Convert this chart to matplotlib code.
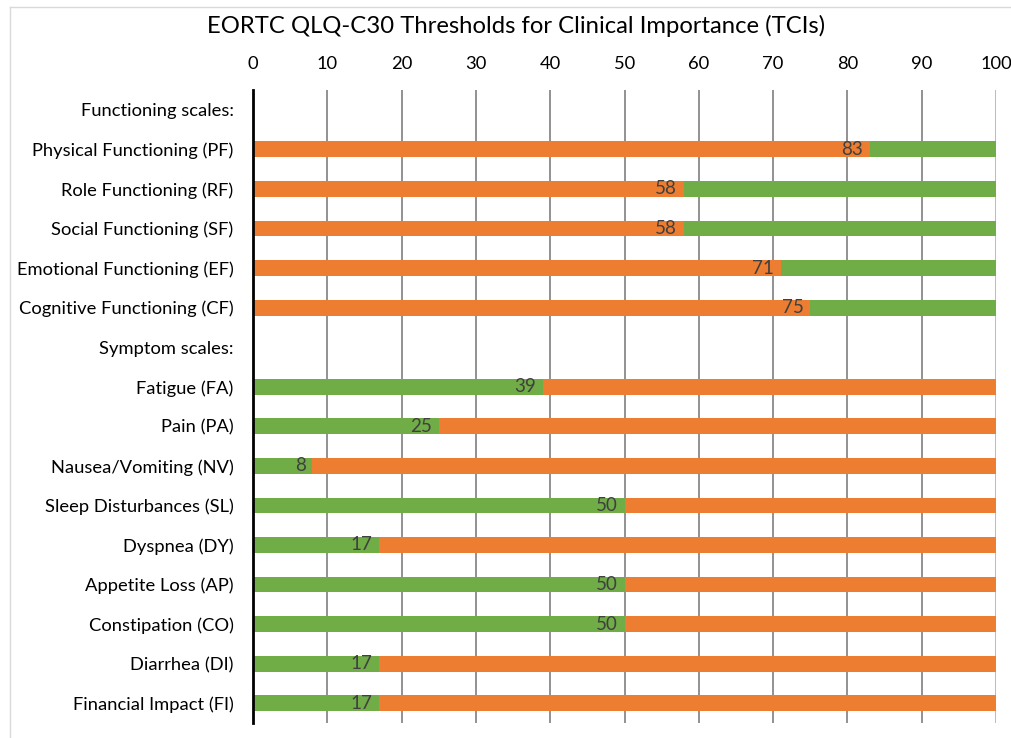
import matplotlib
matplotlib.use("Agg")
import matplotlib.pyplot as plt
from matplotlib.lines import Line2D

plt.rcParams['font.family'] = ['Lato', 'DejaVu Sans']

# Données
categories = ["Functioning scales:",
              "Physical Functioning (PF)", "Role Functioning (RF)", "Social Functioning (SF)",
              "Emotional Functioning (EF)", "Cognitive Functioning (CF)",
              "Symptom scales:",
              "Fatigue (FA)", "Pain (PA)", "Nausea/Vomiting (NV)", "Sleep Disturbances (SL)",
              "Dyspnea (DY)", "Appetite Loss (AP)", "Constipation (CO)", "Diarrhea (DI)",
              "Financial Impact (FI)"]
# None = ligne de titre sans barre
thresholds = [None, 83, 58, 58, 71, 75, None, 39, 25, 8, 50, 17, 50, 50, 17, 17]
group = [None, "F", "F", "F", "F", "F", None, "S", "S", "S", "S", "S", "S", "S", "S", "S"]
ticks = [0, 10, 20, 30, 40, 50, 60, 70, 80, 90, 100]

orange = "#ED7D31"
green = "#70AD47"

fig = plt.figure(figsize=(10.12, 7.38), dpi=100)
ax = fig.add_axes([0.25, 0.0203, 0.7342, 0.8577])

ypos = list(range(len(categories)))
for y, t, g in zip(ypos, thresholds, group):
    if t is None:
        continue
    c1, c2 = (orange, green) if g == "F" else (green, orange)
    ax.barh(y, t, left=0, height=0.4, color=c1, zorder=3)
    ax.barh(y, 100 - t, left=t, height=0.4, color=c2, zorder=3)
    ax.text(t - 0.9, y, str(t), ha='right', va='center', fontsize=13.5,
            color='#404040', zorder=4)

ax.set_xlim(0, 100)
ax.set_ylim(len(categories) - 0.5, -0.5)
ax.set_yticks(ypos)
ax.set_yticklabels(categories, fontsize=13.2)
ax.set_xticks(ticks)
ax.tick_params(axis='x', top=True, bottom=False, labeltop=True, labelbottom=False,
               length=0, pad=13, labelsize=13.2)
ax.tick_params(axis='y', length=0, pad=14)
for v in ticks[1:-1]:
    ax.axvline(v, color='#7F7F7F', lw=1.2, zorder=1)
ax.axvline(100, color='#A6A6A6', lw=1.8, zorder=1)
for s in ['top', 'right', 'bottom']:
    ax.spines[s].set_visible(False)
ax.spines['left'].set_linewidth(2)
ax.spines['left'].set_color('black')
ax.spines['left'].set_zorder(5)

fig.text(0.51, 0.965, "EORTC QLQ-C30 Thresholds for Clinical Importance (TCIs)",
         ha='center', va='center', fontsize=17.2, color='black')

# Cadre gris clair
fig.add_artist(Line2D([10 / 1012, 10 / 1012], [0, 1 - 7 / 738], color='#D9D9D9', lw=1))
fig.add_artist(Line2D([10 / 1012, 1], [1 - 7 / 738, 1 - 7 / 738], color='#D9D9D9', lw=1))

fig.savefig("out.png", dpi=100)
